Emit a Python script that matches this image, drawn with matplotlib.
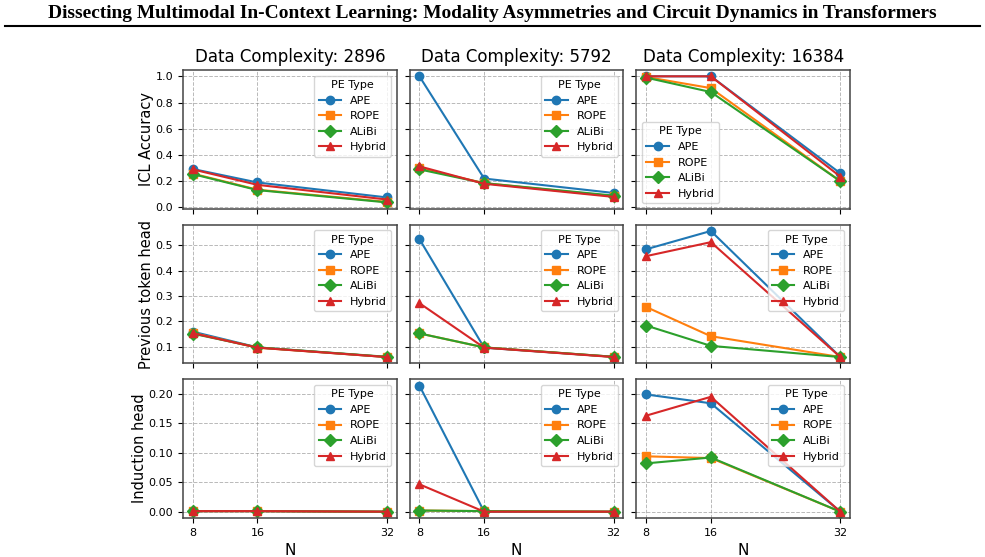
import numpy as np
import matplotlib
matplotlib.use("Agg")
import matplotlib.pyplot as plt
from matplotlib.lines import Line2D

# values
n_values = [8, 16, 32]
complexities = [2896, 5792, 16384]
pe_types = ["APE", "ROPE", "ALiBi", "Hybrid"]
metric_labels = ["ICL Accuracy", "Previous token head", "Induction head"]
header = ("Dissecting Multimodal In-Context Learning: Modality Asymmetries "
          "and Circuit Dynamics in Transformers")

# ICL accuracy, one list per complexity, rows = APE, ROPE, ALiBi, Hybrid
icl_2896 = [[0.293, 0.190, 0.076], [0.258, 0.135, 0.042],
            [0.254, 0.132, 0.038], [0.290, 0.172, 0.060]]
icl_5792 = [[1.000, 0.220, 0.110], [0.300, 0.185, 0.085],
            [0.290, 0.185, 0.090], [0.313, 0.180, 0.080]]
icl_16384 = [[1.000, 1.000, 0.260], [0.995, 0.910, 0.200],
             [0.990, 0.880, 0.200], [1.000, 1.000, 0.235]]

# previous token head score
prev_2896 = [[0.160, 0.098, 0.060], [0.155, 0.097, 0.060],
             [0.152, 0.098, 0.061], [0.154, 0.097, 0.060]]
prev_5792 = [[0.524, 0.097, 0.061], [0.153, 0.098, 0.061],
             [0.153, 0.098, 0.061], [0.272, 0.097, 0.060]]
prev_16384 = [[0.484, 0.556, 0.060], [0.257, 0.142, 0.060],
              [0.184, 0.104, 0.060], [0.457, 0.512, 0.060]]

# induction head score
ind_2896 = [[0.001, 0.001, 0.000], [0.001, 0.001, 0.000],
            [0.001, 0.001, 0.000], [0.001, 0.001, 0.000]]
ind_5792 = [[0.214, 0.000, 0.000], [0.002, 0.001, 0.000],
            [0.002, 0.001, 0.000], [0.0465, 0.000, 0.000]]
ind_16384 = [[0.199, 0.184, 0.000], [0.094, 0.091, 0.000],
             [0.082, 0.092, 0.000], [0.163, 0.195, 0.000]]

all_rows = [[icl_2896, icl_5792, icl_16384],
            [prev_2896, prev_5792, prev_16384],
            [ind_2896, ind_5792, ind_16384]]

markers = ["o", "s", "D", "^"]
colors = ["#1f77b4", "#ff7f0e", "#2ca02c", "#d62728"]

fig, axes = plt.subplots(3, 3, figsize=(9.85, 5.57), dpi=100,
                         sharex=True, sharey="row")
fig.subplots_adjust(left=0.1858, right=0.863, top=0.8743, bottom=0.070,
                    wspace=0.061, hspace=0.115)

for r in range(3):
    for c in range(3):
        ax = axes[r, c]
        series = all_rows[r][c]
        for k, name in enumerate(pe_types):
            ax.plot(n_values, series[k], marker=markers[k], color=colors[k],
                    label=name, markersize=6, linewidth=1.5)
        ax.grid(True, linestyle="--", color="gray", alpha=0.55, linewidth=0.7)
        for sp in ax.spines.values():
            sp.set_color("#444444")
            sp.set_linewidth(1.1)
        ax.tick_params(labelsize=8)
        loc = "lower left" if (r == 0 and c == 2) else "upper right"
        ax.legend(title="PE Type", fontsize=8, title_fontsize=8, loc=loc)
        if r == 0:
            ax.set_title(f"Data Complexity: {complexities[c]}", fontsize=12)
        if c == 0:
            ax.set_ylabel(metric_labels[r], fontsize=10.5, labelpad=1)
        if r == 2:
            ax.set_xlabel("N", fontsize=11)
            ax.set_xticks(n_values)

# page header from the paper
t = fig.text(0.5, 1 - 14 / 557, header, ha="center", va="center",
             family="Liberation Serif", weight="bold", fontsize=11)
fig.canvas.draw()
w = t.get_window_extent().width
t.set_fontsize(11 * 885 / w)
fig.add_artist(Line2D([5 / 985, 980 / 985], [1 - 26 / 557, 1 - 26 / 557],
                      transform=fig.transFigure, color="black", linewidth=1.5))

fig.savefig("out.png", dpi=100)
